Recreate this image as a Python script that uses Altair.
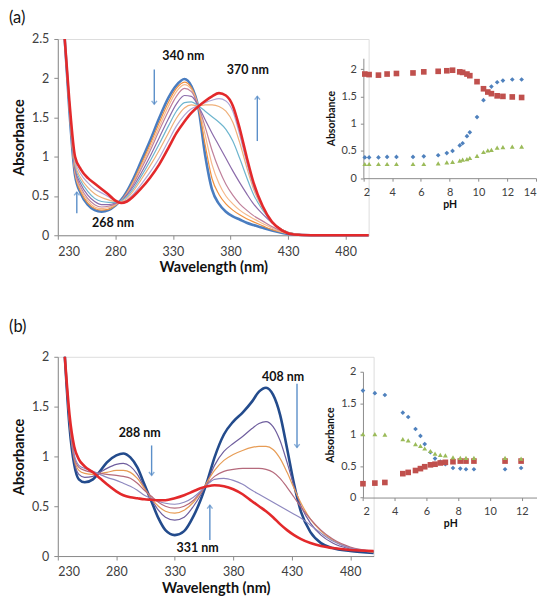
import altair as alt
import pandas as pd

# ---------------- Panel (a) spectra ----------------
WL_A = [236, 240, 245, 250, 256, 262, 268, 274, 280, 285, 290, 296, 302, 310, 318, 326, 333, 340,
        346, 352, 358, 364, 370, 376, 382, 388, 394, 400, 408, 416, 425, 435, 450, 470, 500]
A_A0 = [2.50, 1.60, 0.76, 0.53, 0.39, 0.32, 0.30, 0.32, 0.38, 0.45, 0.56, 0.73, 0.93, 1.20, 1.49, 1.75, 1.91, 1.99,
        1.90, 1.63, 1.02, 0.58, 0.40, 0.30, 0.24, 0.20, 0.16, 0.13, 0.095, 0.06, 0.03, 0.01, 0.0, 0.0, 0.0]
A_A1 = [2.50, 1.60, 0.78, 0.55, 0.41, 0.34, 0.32, 0.33, 0.38, 0.44, 0.54, 0.70, 0.89, 1.15, 1.43, 1.69, 1.87, 1.95,
        1.88, 1.64, 1.15, 0.72, 0.52, 0.40, 0.32, 0.26, 0.21, 0.17, 0.12, 0.07, 0.035, 0.01, 0.0, 0.0, 0.0]
A_A2 = [2.50, 1.61, 0.80, 0.58, 0.44, 0.36, 0.34, 0.35, 0.39, 0.44, 0.53, 0.68, 0.86, 1.11, 1.38, 1.64, 1.83, 1.92,
        1.86, 1.65, 1.28, 0.90, 0.66, 0.50, 0.40, 0.32, 0.26, 0.21, 0.15, 0.09, 0.04, 0.015, 0.0, 0.0, 0.0]
A_A3 = [2.50, 1.62, 0.82, 0.61, 0.47, 0.39, 0.36, 0.37, 0.40, 0.44, 0.52, 0.66, 0.83, 1.07, 1.33, 1.58, 1.77, 1.87,
        1.83, 1.65, 1.38, 1.08, 0.84, 0.65, 0.51, 0.40, 0.32, 0.25, 0.18, 0.11, 0.05, 0.02, 0.0, 0.0, 0.0]
A_A4 = [2.50, 1.63, 0.85, 0.65, 0.51, 0.43, 0.39, 0.39, 0.41, 0.44, 0.51, 0.63, 0.78, 1.00, 1.24, 1.48, 1.67, 1.78,
        1.77, 1.65, 1.47, 1.30, 1.14, 0.98, 0.82, 0.67, 0.53, 0.40, 0.27, 0.16, 0.07, 0.02, 0.0, 0.0, 0.0]
A_A5 = [2.50, 1.64, 0.88, 0.69, 0.56, 0.47, 0.43, 0.42, 0.42, 0.44, 0.49, 0.60, 0.74, 0.94, 1.16, 1.39, 1.58, 1.69,
        1.70, 1.65, 1.58, 1.51, 1.44, 1.35, 1.20, 0.98, 0.74, 0.52, 0.32, 0.17, 0.07, 0.02, 0.0, 0.0, 0.0]
A_A6 = [2.50, 1.66, 0.91, 0.73, 0.61, 0.53, 0.48, 0.45, 0.43, 0.43, 0.47, 0.57, 0.70, 0.88, 1.08, 1.30, 1.49, 1.62,
        1.66, 1.65, 1.66, 1.66, 1.64, 1.58, 1.44, 1.18, 0.87, 0.59, 0.34, 0.17, 0.07, 0.02, 0.0, 0.0, 0.0]
A_A7 = [2.50, 1.69, 0.95, 0.78, 0.67, 0.59, 0.54, 0.49, 0.44, 0.42, 0.45, 0.53, 0.64, 0.80, 0.98, 1.20, 1.39, 1.53,
        1.61, 1.65, 1.69, 1.72, 1.74, 1.71, 1.58, 1.28, 0.93, 0.62, 0.35, 0.17, 0.06, 0.015, 0.0, 0.0, 0.0]
A_A8 = [2.50, 1.72, 1.00, 0.84, 0.73, 0.66, 0.59, 0.52, 0.44, 0.41, 0.43, 0.50, 0.59, 0.73, 0.90, 1.11, 1.30, 1.45,
        1.56, 1.64, 1.71, 1.77, 1.81, 1.78, 1.65, 1.36, 1.00, 0.67, 0.37, 0.17, 0.06, 0.01, 0.0, 0.0, 0.0]
COLORS_A = ["#4A7DC0", "#F0913F", "#F5B98C", "#C0819B", "#8B6BAA", "#6DB5CE", "#EFB07A", "#B0A7D6", "#E3292B"]
WIDTHS_A = [2.6, 1.2, 1.2, 1.2, 1.2, 1.2, 1.2, 1.2, 2.6]

# ---------------- Panel (b) spectra ----------------
WL_B = [236, 240, 244, 248, 253, 260, 266, 272, 280, 286, 292, 298, 304, 310, 316, 322, 330, 338, 346,
        352, 358, 364, 372, 380, 388, 396, 402, 408, 414, 420, 426, 432, 438, 446, 455, 465, 480, 500]
A_B0 = [2.00, 1.30, 0.92, 0.77, 0.74, 0.77, 0.85, 0.94, 1.01, 1.03, 0.99, 0.89, 0.72, 0.55, 0.38, 0.26, 0.21, 0.25, 0.40,
        0.56, 0.76, 0.99, 1.22, 1.35, 1.44, 1.55, 1.65, 1.69, 1.62, 1.42, 1.08, 0.72, 0.44, 0.24, 0.13, 0.08, 0.05, 0.03]
A_B1 = [2.00, 1.32, 0.95, 0.82, 0.79, 0.80, 0.84, 0.88, 0.92, 0.93, 0.90, 0.82, 0.69, 0.57, 0.46, 0.39, 0.36, 0.39, 0.50,
        0.61, 0.75, 0.91, 1.05, 1.13, 1.20, 1.28, 1.33, 1.35, 1.30, 1.16, 0.94, 0.70, 0.50, 0.33, 0.21, 0.13, 0.07, 0.04]
A_B2 = [2.00, 1.34, 0.98, 0.86, 0.83, 0.82, 0.83, 0.84, 0.86, 0.86, 0.84, 0.78, 0.68, 0.58, 0.50, 0.45, 0.43, 0.46, 0.54,
        0.63, 0.75, 0.86, 0.96, 1.02, 1.06, 1.09, 1.10, 1.10, 1.07, 0.98, 0.84, 0.68, 0.53, 0.37, 0.25, 0.16, 0.08, 0.04]
A_B3 = [2.00, 1.36, 1.00, 0.89, 0.86, 0.84, 0.83, 0.82, 0.81, 0.80, 0.78, 0.73, 0.66, 0.60, 0.54, 0.50, 0.48, 0.50, 0.56,
        0.64, 0.73, 0.80, 0.85, 0.87, 0.88, 0.88, 0.88, 0.87, 0.84, 0.78, 0.69, 0.59, 0.49, 0.37, 0.26, 0.17, 0.09, 0.05]
A_B4 = [2.00, 1.38, 1.02, 0.91, 0.88, 0.85, 0.82, 0.79, 0.76, 0.73, 0.70, 0.66, 0.61, 0.58, 0.55, 0.53, 0.52, 0.54, 0.59,
        0.65, 0.72, 0.77, 0.78, 0.76, 0.72, 0.66, 0.62, 0.58, 0.54, 0.50, 0.46, 0.42, 0.38, 0.31, 0.23, 0.15, 0.08, 0.05]
A_B5 = [2.00, 1.42, 1.10, 0.97, 0.90, 0.84, 0.78, 0.72, 0.65, 0.61, 0.59, 0.58, 0.57, 0.565, 0.56, 0.56, 0.58, 0.61, 0.65,
        0.68, 0.70, 0.71, 0.70, 0.67, 0.62, 0.55, 0.50, 0.45, 0.39, 0.32, 0.26, 0.21, 0.17, 0.13, 0.10, 0.08, 0.06, 0.05]
COLORS_B = ["#234B8C", "#6F5E9E", "#E79C55", "#B56A7C", "#8E88BF", "#E3292B"]
WIDTHS_B = [2.6, 1.2, 1.2, 1.2, 1.2, 2.6]

# ---------------- Insets ----------------
PH_A = [2.1, 2.4, 3.05, 3.65, 4.3, 5.45, 6.2, 7.2, 7.8, 8.2, 8.7, 8.9, 9.2, 9.4, 9.9, 10.35, 10.65, 10.9,
        11.3, 11.7, 12.35, 13.0]
INS_A_BLUE = [0.38, 0.38, 0.38, 0.39, 0.39, 0.39, 0.40, 0.42, 0.46, 0.50, 0.60, 0.64, 0.77, 0.84, 1.12, 1.43,
              1.58, 1.68, 1.76, 1.79, 1.81, 1.81]
INS_A_RED = [1.91, 1.90, 1.89, 1.91, 1.92, 1.93, 1.95, 1.96, 1.97, 1.98, 1.95, 1.94, 1.91, 1.88, 1.77, 1.64,
             1.58, 1.55, 1.51, 1.50, 1.49, 1.48]
INS_A_GREEN = [0.26, 0.26, 0.26, 0.26, 0.26, 0.26, 0.26, 0.27, 0.29, 0.30, 0.32, 0.34, 0.35, 0.37, 0.41, 0.48,
               0.51, 0.52, 0.56, 0.57, 0.58, 0.58]

PH_B = [2.0, 2.75, 3.38, 4.51, 4.85, 5.31, 5.62, 5.89, 6.25, 6.54, 6.87, 7.19, 7.67, 8.13, 8.49, 8.99, 10.95, 11.96]
INS_B_BLUE = [1.70, 1.66, 1.63, 1.35, 1.28, 1.09, 0.98, 0.85, 0.72, 0.62, 0.57, 0.53, 0.47, 0.46, 0.45, 0.45, 0.45, 0.47]
INS_B_GREEN = [1.01, 1.01, 1.00, 0.93, 0.91, 0.85, 0.82, 0.78, 0.74, 0.70, 0.68, 0.67, 0.64, 0.63, 0.63, 0.63, 0.63, 0.62]
INS_B_RED = [0.22, 0.23, 0.24, 0.38, 0.40, 0.43, 0.46, 0.49, 0.52, 0.53, 0.55, 0.56, 0.57, 0.58, 0.58, 0.58, 0.58, 0.58]

# ---------------- Annotations ----------------
ANN_A_TEXT = ["340 nm", "370 nm", "268 nm"]
ANN_A_X = [339, 395, 278]
ANN_A_Y = [2.28, 2.11, 0.16]
ARR_A_X = [313.8, 403.3, 246.5]
ARR_A_TAIL = [2.11, 1.20, 0.28]
ARR_A_TIP = [1.67, 1.77, 0.55]

ANN_B_TEXT = ["288 nm", "331 nm", "408 nm"]
ANN_B_X = [300, 349.5, 422.6]
ANN_B_Y = [1.23, 0.08, 1.80]
ARR_B_X = [310.2, 360, 434.5]
ARR_B_TAIL = [1.11, 0.16, 1.73]
ARR_B_TIP = [0.81, 0.51, 1.09]

FONT = "Lato"
ARROW_COLOR = "#5B8FC9"
DOWN = "M-0.8,-1L0,0L0.8,-1"
UP = "M-0.8,1L0,0L0.8,1"


def panel(label, label_y, wl, curves, colors, widths, xdom, ydom, yvals, W, H,
          ann_t, ann_x, ann_y, arr_x, arr_tail, arr_tip,
          ph, blue, red, green, ph_dom, ph_vals, ins_ydom, ins_yvals, ins_xr, ins_yr):
    xs = alt.Scale(domain=xdom, nice=False, zero=False)
    ys = alt.Scale(domain=ydom, nice=False)
    xax = alt.Axis(values=[230, 280, 330, 380, 430, 480], title="Wavelength (nm)", grid=False,
                   tickSize=4, labelPadding=6, titlePadding=3, labelFontSize=12.5, titleFontSize=14.5,
                   labelFont=FONT, titleFont=FONT, titleFontWeight="bold", labelColor="#404040",
                   titleColor="#111111", domainColor="#8C8C8C", tickColor="#8C8C8C")
    yax = alt.Axis(values=yvals, format=".1~f", title="Absorbance", grid=False,
                   tickSize=4, labelPadding=5, titlePadding=5, labelFontSize=12.5, titleFontSize=14.5,
                   labelFont=FONT, titleFont=FONT, titleFontWeight="bold", labelColor="#404040",
                   titleColor="#111111", domainColor="#8C8C8C", tickColor="#8C8C8C")
    layers = []
    for vals, col, sw in zip(curves, colors, widths):
        df = pd.DataFrame({"wl": wl, "A": vals})
        layers.append(alt.Chart(df).mark_line(color=col, strokeWidth=sw, interpolate="monotone").encode(
            x=alt.X("wl:Q", scale=xs, axis=xax), y=alt.Y("A:Q", scale=ys, axis=yax)))
    adf = pd.DataFrame({"wl": ann_x, "A": ann_y, "t": ann_t})
    layers.append(alt.Chart(adf).mark_text(font=FONT, fontWeight="bold", fontSize=12.5, color="#111111").encode(
        x=alt.X("wl:Q", scale=xs, axis=xax), y=alt.Y("A:Q", scale=ys, axis=yax), text="t:N"))
    rdf = pd.DataFrame({"wl": arr_x, "A": arr_tail, "A2": arr_tip})
    layers.append(alt.Chart(rdf).mark_rule(color=ARROW_COLOR, strokeWidth=1.4).encode(
        x=alt.X("wl:Q", scale=xs, axis=xax), y=alt.Y("A:Q", scale=ys, axis=yax), y2="A2:Q"))
    for xv, tail, tip in zip(arr_x, arr_tail, arr_tip):
        hdf = pd.DataFrame({"wl": [xv], "A": [tip]})
        layers.append(alt.Chart(hdf).mark_point(shape=DOWN if tip < tail else UP, filled=False,
                                                 stroke=ARROW_COLOR, strokeWidth=1.4, size=45).encode(
            x=alt.X("wl:Q", scale=xs, axis=xax), y=alt.Y("A:Q", scale=ys, axis=yax)))
    ldf = pd.DataFrame({"t": [label]})
    layers.append(alt.Chart(ldf).mark_text(font=FONT, fontSize=16.5, align="left", baseline="middle",
                                           color="#111111").encode(
        x=alt.value(-49), y=alt.value(label_y), text="t:N"))
    main = alt.layer(*layers)

    # inset
    ixs = alt.Scale(domain=ph_dom, range=ins_xr, nice=False, zero=False)
    iys = alt.Scale(domain=ins_ydom, range=ins_yr, nice=False)
    ixax = alt.Axis(orient="bottom", offset=-(H - ins_yr[0]), values=ph_vals, title="pH", grid=False,
                    tickSize=3, labelPadding=5, titlePadding=2, labelFontSize=11, titleFontSize=10.5,
                    labelFont=FONT, titleFont=FONT, titleFontWeight="bold", labelColor="#404040",
                    titleColor="#111111", domainColor="#8C8C8C", tickColor="#8C8C8C")
    iyax = alt.Axis(orient="left", offset=-ins_xr[0], values=ins_yvals, format=".1~f", title="Absorbance",
                    grid=False, tickSize=3, labelPadding=4, titlePadding=5, labelFontSize=11, titleFontSize=10.5,
                    labelFont=FONT, titleFont=FONT, titleFontWeight="bold", labelColor="#404040",
                    titleColor="#111111", domainColor="#8C8C8C", tickColor="#8C8C8C")
    ilayers = []
    for vals, shape, col, size in [(blue, "diamond", "#4F81BD", 22), (red, "square", "#C0504D", 32),
                                   (green, "triangle-up", "#9BBB59", 24)]:
        idf = pd.DataFrame({"pH": ph, "A": vals})
        ilayers.append(alt.Chart(idf).mark_point(shape=shape, filled=True, color=col, size=size, opacity=1).encode(
            x=alt.X("pH:Q", scale=ixs, axis=ixax), y=alt.Y("A:Q", scale=iys, axis=iyax)))
    inset = alt.layer(*ilayers)
    return alt.layer(main, inset).resolve_scale(x="independent", y="independent").properties(width=W, height=H)


pa = panel("(a)", -21.5, WL_A, [A_A0, A_A1, A_A2, A_A3, A_A4, A_A5, A_A6, A_A7, A_A8], COLORS_A, WIDTHS_A,
           [230, 500], [0, 2.5], [0, 0.5, 1, 1.5, 2, 2.5], 312, 197,
           ANN_A_TEXT, ANN_A_X, ANN_A_Y, ARR_A_X, ARR_A_TAIL, ARR_A_TIP,
           PH_A, INS_A_BLUE, INS_A_RED, INS_A_GREEN, [2, 14], [2, 4, 6, 8, 10, 12, 14],
           [0, 2.2], [0, 0.5, 1, 1.5, 2], [306.7, 480], [139.7, 19.3])

pb = panel("(b)", -30, WL_B, [A_B0, A_B1, A_B2, A_B3, A_B4, A_B5], COLORS_B, WIDTHS_B,
           [230, 500], [0, 2], [0, 0.5, 1, 1.5, 2], 317, 200,
           ANN_B_TEXT, ANN_B_X, ANN_B_Y, ARR_B_X, ARR_B_TAIL, ARR_B_TIP,
           PH_B, INS_B_BLUE, INS_B_RED, INS_B_GREEN, [2, 13], [2, 4, 6, 8, 10, 12],
           [0, 2], [0, 0.5, 1, 1.5, 2], [306.3, 481.6], [141.3, 15])

chart = alt.vconcat(pa, pb, spacing=43).properties(padding=0).configure_view(stroke=None).configure(
    font=FONT, background="white")

chart.save("out.html", embed_options={"renderer": "svg", "actions": False})
